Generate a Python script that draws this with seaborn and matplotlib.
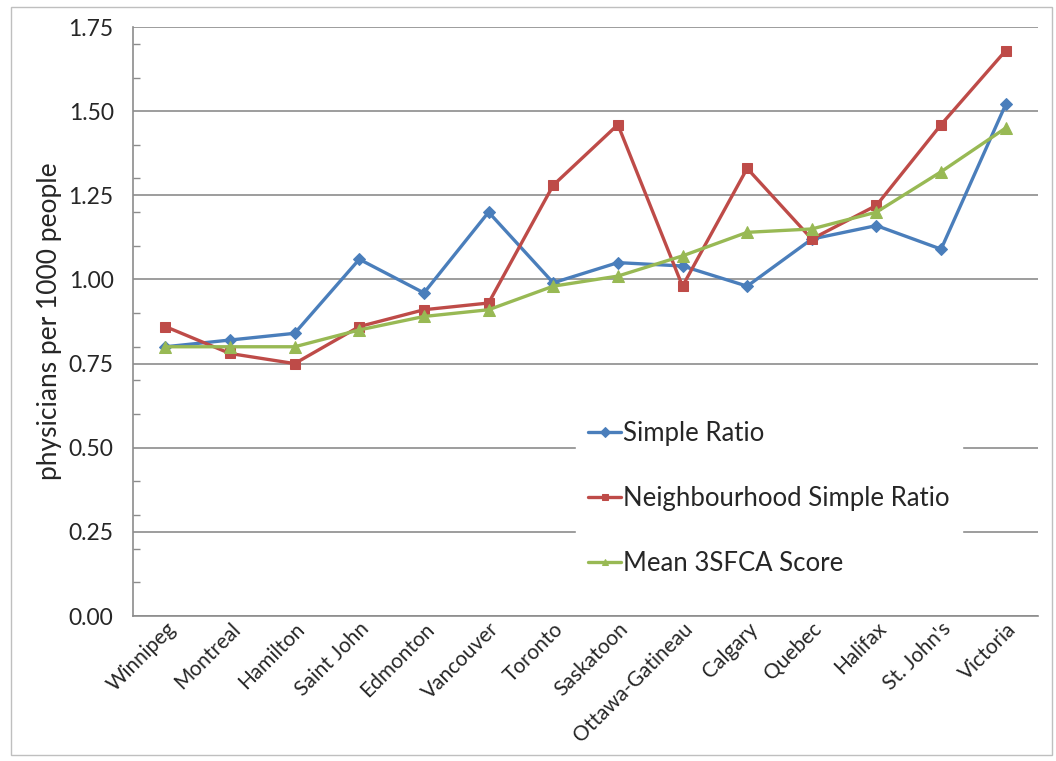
import numpy as np
import pandas as pd
import matplotlib
matplotlib.use("Agg")
import matplotlib.pyplot as plt
import seaborn as sns
from matplotlib.ticker import MultipleLocator, FixedLocator

cities = ['Winnipeg', 'Montreal', 'Hamilton', 'Saint John', 'Edmonton', 'Vancouver',
          'Toronto', 'Saskatoon', 'Ottawa-Gatineau', 'Calgary', 'Quebec', 'Halifax',
          "St. John's", 'Victoria']
simple_ratio = [0.80, 0.82, 0.84, 1.06, 0.96, 1.20, 0.99, 1.05, 1.04, 0.98, 1.12, 1.16, 1.09, 1.52]
neighbourhood_ratio = [0.86, 0.78, 0.75, 0.86, 0.91, 0.93, 1.28, 1.46, 0.98, 1.33, 1.12, 1.22, 1.46, 1.68]
mean_3sfca = [0.80, 0.80, 0.80, 0.85, 0.89, 0.91, 0.98, 1.01, 1.07, 1.14, 1.15, 1.20, 1.32, 1.45]

series_names = ['Simple Ratio', 'Neighbourhood Simple Ratio', 'Mean 3SFCA Score']
colors = ['#4a7ebb', '#be4b48', '#98b954']
markers = ['D', 's', '^']
sizes = [6, 7.5, 8]

df = pd.DataFrame({'city': cities,
                   series_names[0]: simple_ratio,
                   series_names[1]: neighbourhood_ratio,
                   series_names[2]: mean_3sfca})
long_df = df.melt(id_vars='city', var_name='series', value_name='value')
long_df['pos'] = long_df['city'].map({c: i for i, c in enumerate(cities)})

sns.set_style('white')
plt.rcParams['font.family'] = ['Lato', 'DejaVu Sans']

fig = plt.figure(figsize=(10.56, 7.61), dpi=100)
ax = fig.add_axes([0.126, 0.1905, 0.857, 0.774])

for name, col, mk, ms in zip(series_names, colors, markers, sizes):
    sub = long_df[long_df['series'] == name]
    sns.lineplot(data=sub, x='pos', y='value', ax=ax, color=col, linewidth=2.4,
                 marker=mk, markersize=ms, markeredgecolor=col, label=name)

ax.set_xlim(-0.5, len(cities) - 0.5)
ax.set_ylim(0, 1.75)
ax.yaxis.set_major_locator(MultipleLocator(0.25))
ax.yaxis.set_minor_locator(MultipleLocator(0.1))
ax.yaxis.set_major_formatter(matplotlib.ticker.FormatStrFormatter('%.2f'))
ax.grid(axis='y', which='major', color='#8c8c8c', linewidth=1.2)
ax.set_axisbelow(True)

ax.xaxis.set_major_locator(FixedLocator(np.arange(-0.5, len(cities), 1.0)))
ax.xaxis.set_major_formatter(matplotlib.ticker.NullFormatter())
ax.set_xticks(np.arange(len(cities)), labels=cities, minor=True)
ax.tick_params(axis='x', which='minor', length=0, labelsize=15, labelrotation=45, pad=2)
for lbl in ax.get_xticklabels(minor=True):
    lbl.set_ha('right')
    lbl.set_rotation_mode('anchor')
ax.tick_params(axis='x', which='major', direction='out', length=6, color='#8c8c8c', width=1)
ax.tick_params(axis='y', which='major', direction='out', length=7, color='#8c8c8c',
               width=1, labelsize=16.5, pad=7)
ax.tick_params(axis='y', which='minor', direction='in', length=5, color='#8c8c8c', width=1, left=True)

for s in ['top', 'right']:
    ax.spines[s].set_visible(False)
for s in ['left', 'bottom']:
    ax.spines[s].set_color('#8c8c8c')
    ax.spines[s].set_linewidth(1.2)

ax.set_xlabel('')
ax.set_ylabel('physicians per 1000 people', fontsize=19, labelpad=5)

leg = ax.legend(loc='upper left', bbox_to_anchor=(0.489, 0.353), borderaxespad=0,
                frameon=True, fontsize=18.5, handlelength=1.25, handletextpad=0.1,
                labelspacing=1.55, borderpad=0.5)
leg.get_frame().set_facecolor('white')
leg.get_frame().set_edgecolor('white')
leg.get_frame().set_alpha(1)
for h in leg.legend_handles:
    h.set_markersize(5)

border = plt.Rectangle((0.01, 0.008), 0.986, 0.983, transform=fig.transFigure,
                       fill=False, edgecolor='#bfbfbf', linewidth=1)
fig.patches.append(border)

fig.savefig('out.png', dpi=100)
